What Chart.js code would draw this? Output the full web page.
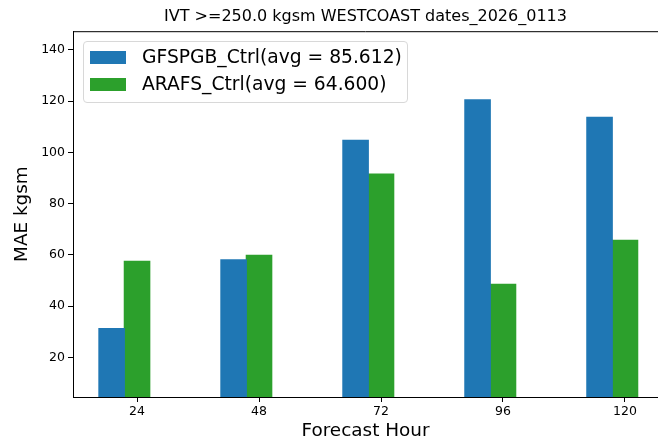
<!DOCTYPE html>
<html>
<head>
<meta charset="utf-8">
<script src="https://cdn.jsdelivr.net/npm/chart.js@4"></script>
<style>
  html, body { margin: 0; padding: 0; background: #fff; }
  #wrap { position: relative; width: 658px; height: 442px; }
  #legend {
    position: absolute; left: 83px; top: 41px; width: 325px; height: 62px;
    border: 1px solid #d8d8d8; border-radius: 4px; background: rgba(255,255,255,0.8);
    font-family: "DejaVu Sans", sans-serif; font-size: 18.7px; color: #000;
    box-sizing: border-box;
  }
  #legend .row { position: absolute; left: 6px; height: 20px; line-height: 20px; white-space: nowrap; }
  #legend .sw { display: inline-block; width: 36px; height: 13px; vertical-align: -1px; margin-right: 16px; }
</style>
</head>
<body>
<div id="wrap">
  <canvas id="c" width="658" height="442"></canvas>
  <div id="legend"></div>
</div>
<script>
// ---------- DATA ----------
const hours = [24, 48, 72, 96, 120];
const gfsValues = [31.2, 58.0, 104.7, 120.5, 113.7];
const arafsValues = [57.5, 59.8, 91.5, 48.5, 65.7];
const seriesNames = ['GFSPGB_Ctrl(avg = 85.612)', 'ARAFS_Ctrl(avg = 64.600)'];
const seriesColors = ['#1f77b4', '#2ca02c'];
const yTicks = [20, 40, 60, 80, 100, 120, 140];
const titleText = 'IVT >=250.0 kgsm WESTCOAST dates_2026_0113';

// bar width in hours; green bar sits on the tick, blue just left of it
const barWidth = 5;
const groupX = hours.map(h => h - barWidth / 2);

const font = "'DejaVu Sans', sans-serif";

// top spine (matplotlib box, right side is cropped off)
const topSpine = {
  id: 'topSpine',
  afterDraw(chart) {
    const { ctx, chartArea } = chart;
    ctx.save();
    ctx.strokeStyle = '#000';
    ctx.lineWidth = 1;
    ctx.beginPath();
    ctx.moveTo(chartArea.left, chartArea.top + 0.5);
    ctx.lineTo(chartArea.right, chartArea.top + 0.5);
    ctx.stroke();
    ctx.restore();
  }
};

const chart = new Chart(document.getElementById('c'), {
  type: 'bar',
  data: {
    datasets: [
      { label: seriesNames[0], data: groupX.map((x, i) => ({ x, y: gfsValues[i] })), backgroundColor: seriesColors[0], inflateAmount: 0.6 },
      { label: seriesNames[1], data: groupX.map((x, i) => ({ x, y: arafsValues[i] })), backgroundColor: seriesColors[1], inflateAmount: 0.6 }
    ]
  },
  options: {
    responsive: false,
    animation: false,
    categoryPercentage: (barWidth * 2) / 24,
    barPercentage: 1,
    layout: { padding: { top: 0, right: 0, left: 0, bottom: 0 } },
    plugins: {
      legend: { display: false },
      tooltip: { enabled: false },
      title: {
        display: true, text: titleText, fullSize: false, color: '#000',
        font: { family: font, size: 16, weight: 'normal' },
        padding: { top: 7, bottom: 5 }
      }
    },
    scales: {
      x: {
        type: 'linear', min: 11.4, max: 126.5, offset: false,
        afterBuildTicks: s => { s.ticks = hours.map(v => ({ value: v })); },
        afterFit: s => { s.height = 45; },
        border: { display: true, color: '#000', width: 1 },
        grid: { display: true, offset: false, drawOnChartArea: false, drawTicks: true, tickLength: 5, color: '#000' },
        ticks: { color: '#000', font: { family: font, size: 12.5 }, padding: 2, maxRotation: 0 },
        title: { display: true, text: 'Forecast Hour', color: '#000', font: { family: font, size: 18.4 }, padding: { top: 0, bottom: 0 } }
      },
      y: {
        min: 4.5, max: 147.3,
        afterBuildTicks: s => { s.ticks = yTicks.map(v => ({ value: v })); },
        afterFit: s => { s.width = 73; },
        border: { display: true, color: '#000', width: 1 },
        grid: { display: true, drawOnChartArea: false, drawTicks: true, tickLength: 5, color: '#000' },
        ticks: { color: '#000', font: { family: font, size: 12.5 }, padding: 3 },
        title: { display: true, text: 'MAE kgsm', color: '#000', font: { family: font, size: 18.4 }, padding: { top: 11, bottom: 0 } }
      }
    }
  },
  plugins: [topSpine]
});

// legend box inside the axes, like matplotlib's upper left
const legendEl = document.getElementById('legend');
chart.data.datasets.forEach((ds, i) => {
  const row = document.createElement('div');
  row.className = 'row';
  row.style.top = (5 + i * 27) + 'px';
  row.innerHTML = `<span class="sw" style="background:${ds.backgroundColor}"></span>${ds.label}`;
  legendEl.appendChild(row);
});
</script>
</body>
</html>
